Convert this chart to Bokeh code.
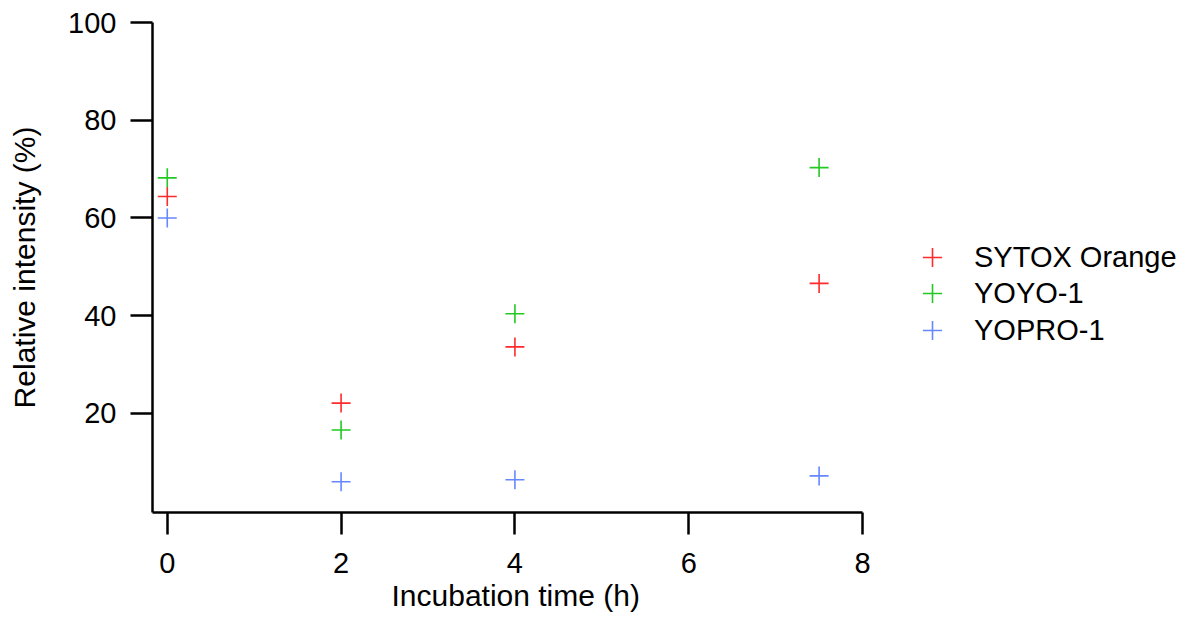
from bokeh.plotting import figure
from bokeh.models import Range1d, Legend, LegendItem, FixedTicker, Title
from bokeh.embed import file_html
from bokeh.resources import INLINE

# Data
time_h = [0, 2, 4, 7.5]
sytox_orange = [64.4, 22.1, 33.6, 46.6]
yoyo_1 = [68.2, 16.6, 40.4, 70.3]
yopro_1 = [60.0, 6.0, 6.4, 7.2]
series_names = ["SYTOX Orange", "YOYO-1", "YOPRO-1"]
series_colors = ["#ff2b2b", "#22c922", "#6688ff"]
x_ticks = [0, 2, 4, 6, 8]
y_ticks = [20, 40, 60, 80, 100]
x_label = "Incubation time (h)"
y_label = "Relative intensity (%)"

FONT = "Liberation Sans"

# layout: the frame extends under the legend; the x axis line is bounded to [x0, 8]
W, H = 1190, 621
LEFT, RIGHT, TOP = 152, 0, 22
FRAME_H = 490
x0, x_axis_end = -0.17, 8.0
px_per_unit = 86.91
frame_w = W - LEFT - RIGHT
x1 = x0 + frame_w / px_per_unit

p = figure(width=W, height=H, output_backend="svg", toolbar_location=None,
           x_range=Range1d(x0, x1), y_range=Range1d(-0.29, 100))
p.min_border_left = LEFT
p.min_border_right = RIGHT
p.min_border_top = TOP
p.min_border_bottom = H - TOP - FRAME_H
p.outline_line_color = None
p.xgrid.visible = False
p.ygrid.visible = False
p.background_fill_color = "white"
p.border_fill_color = "white"

for ax in (p.xaxis[0], p.yaxis[0]):
    ax.axis_line_width = 2.5
    ax.axis_line_color = "black"
    ax.major_tick_line_width = 2.5
    ax.major_tick_line_color = "black"
    ax.major_tick_out = 22
    ax.major_tick_in = 0
    ax.minor_tick_line_color = None
    ax.major_label_text_font = FONT
    ax.major_label_text_font_size = "29px"
    ax.major_label_text_color = "black"
    ax.axis_label_text_font = FONT
    ax.axis_label_text_font_size = "30px"
    ax.axis_label_text_font_style = "normal"
    ax.axis_label_text_color = "black"

p.xaxis.bounds = (x0, x_axis_end)
p.xaxis.ticker = FixedTicker(ticks=x_ticks)
p.yaxis.ticker = FixedTicker(ticks=y_ticks)
p.yaxis.axis_label = y_label
p.xaxis.major_label_standoff = 18
p.yaxis.major_label_standoff = 14
p.yaxis.axis_label_standoff = 24

# x axis label centred under the bounded axis (not under the whole frame)
xt = Title(text=x_label, align="left", offset=239, standoff=6,
           text_font=FONT, text_font_size="30px", text_font_style="normal",
           text_color="black", vertical_align="top")
p.add_layout(xt, "below")

renderers = []
for name, vals, col in zip(series_names, [sytox_orange, yoyo_1, yopro_1], series_colors):
    r = p.scatter(time_h, vals, marker="cross", size=19, line_color=col, line_width=1.6)
    renderers.append(r)

# one legend per row so the legend glyphs can be as large as the data markers
legend_y = [231, 195, 158]
for name, r, ly in zip(series_names, renderers, legend_y):
    lg = Legend(items=[LegendItem(label=name, renderers=[r])], location=(756, ly))
    lg.border_line_color = None
    lg.background_fill_alpha = 0
    lg.padding = 0
    lg.margin = 0
    lg.glyph_width = 48
    lg.glyph_height = 48
    lg.label_height = 48
    lg.label_standoff = 18
    lg.label_text_font = FONT
    lg.label_text_font_size = "29px"
    lg.label_text_color = "black"
    p.add_layout(lg, "center")

open("out.html", "w").write(file_html(p, INLINE))
